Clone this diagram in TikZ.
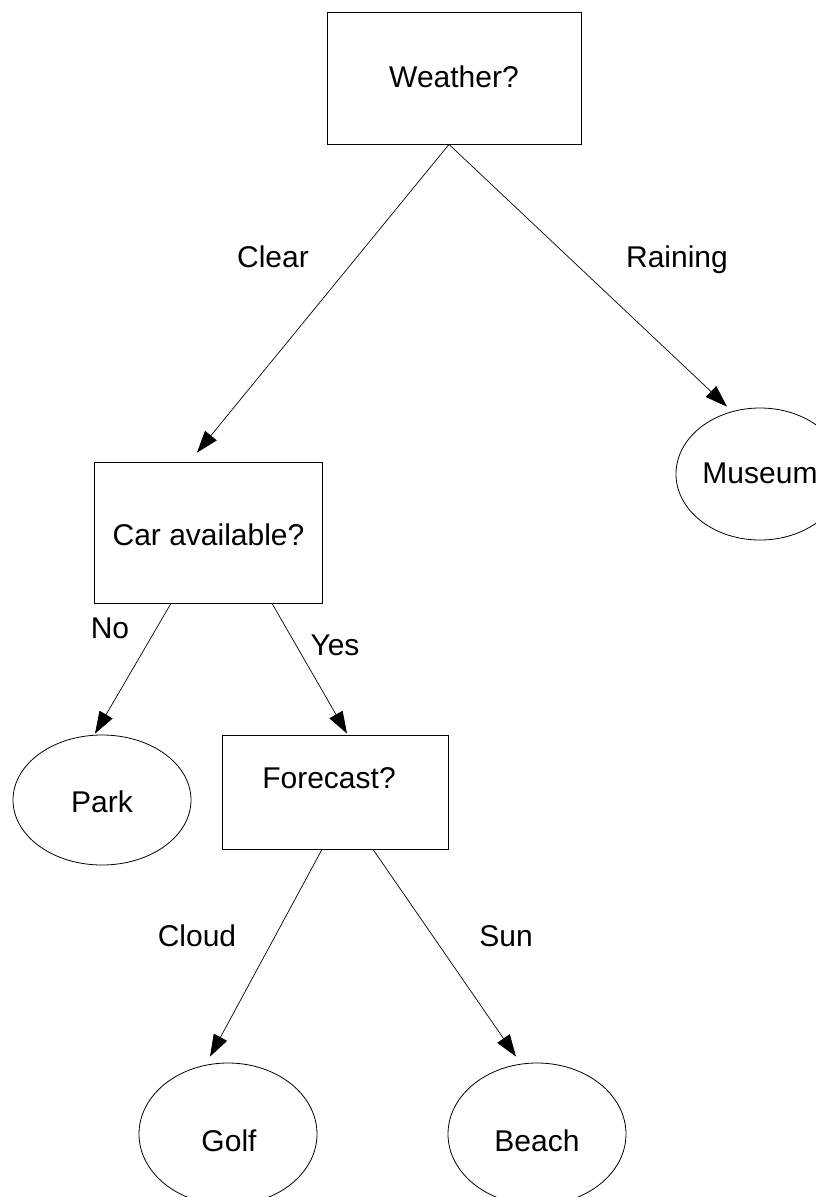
\documentclass[tikz,border=0pt]{standalone}
\usepackage{fontspec}
\setmainfont{Liberation Sans}
\usetikzlibrary{arrows.meta,calc,shapes.geometric}
\begin{document}
\begin{tikzpicture}[x=1pt,y=-1pt,
  box/.style={draw, line width=0.8pt, rectangle, inner sep=0pt, minimum width=228pt, minimum height=#1},
  leaf/.style={draw, line width=0.8pt, ellipse, inner sep=0pt, minimum width=178pt, minimum height=130pt},
  txt/.style={anchor=base, font=\fontsize{30}{36}\selectfont, inner sep=0pt},
  edge/.style={-{Triangle[length=22pt,width=15pt]}, line width=0.7pt}]
\fill[white] (0,0) rectangle (816,1197);
\useasboundingbox (0,0) rectangle (816,1197);
% decision boxes
\node[box=132pt, minimum width=254pt] (weather) at (454,78) {};
\node[txt] (tweather) at (454,87) {Weather?};
\node[box=141pt] (car) at (208,532.5) {};
\node[txt] (tcar) at (208.5,545) {Car available?};
\node[box=114pt, minimum width=226pt] (forecast) at (335,792) {};
\node[txt] (tforecast) at (329,788) {Forecast?};
% leaves
\node[leaf, minimum width=168pt, minimum height=132pt] (museum) at (760,474) {};
\node[txt] (tmuseum) at (760,483) {Museum};
\node[leaf] (park) at (102,800) {};
\node[txt] (tpark) at (102,812) {Park};
\node[leaf, minimum height=142pt] (golf) at (228,1134) {};
\node[txt] (tgolf) at (229,1151) {Golf};
\node[leaf, minimum height=142pt] (beach) at (537,1134) {};
\node[txt] (tbeach) at (537,1151) {Beach};
% edges
\coordinate (wapex) at ($(weather.south)+(-5,0)$);
\draw[edge] (wapex) -- ($(car.north)+(-11,-9)$);
\draw[edge] (wapex) -- ($(museum.north)+(-33,-1)$);
\draw[edge] ($(car.south)+(-37,0)$) -- ($(park.north)+(-7,-1)$);
\draw[edge] ($(car.south)+(64,0)$) -- ($(forecast.north)+(12,-1)$);
\draw[edge] ($(forecast.south)+(-13,0)$) -- ($(golf.north)+(-18,-6)$);
\draw[edge] ($(forecast.south)+(38,0)$) -- ($(beach.north)+(-21,-6)$);
% edge labels
\node[txt] (lclear) at (273,267) {Clear};
\node[txt] (lraining) at (677,267) {Raining};
\node[txt] (lno) at (110,638) {No};
\node[txt] (lyes) at (335,655) {Yes};
\node[txt] (lcloud) at (197,946) {Cloud};
\node[txt] (lsun) at (506,946) {Sun};
\end{tikzpicture}
\end{document}
